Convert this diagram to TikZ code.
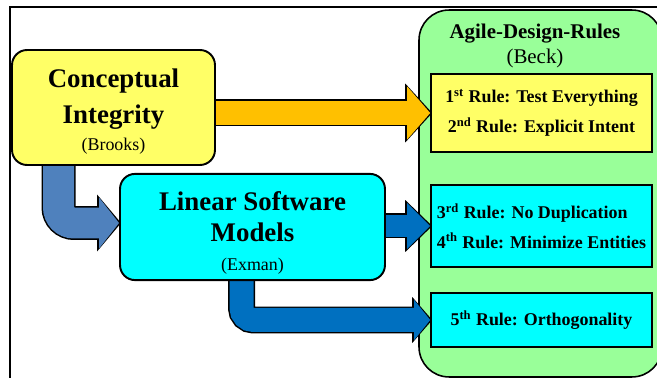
\documentclass[tikz,border=0pt]{standalone}
\usepackage{fontspec}
\setmainfont{Liberation Serif}
\usetikzlibrary{
    arrows.meta,
    positioning,
    calc
}
\definecolor{cyel}{RGB}{255,255,102}
\definecolor{ccyan}{RGB}{0,255,255}
\definecolor{cgreen}{RGB}{153,255,153}
\definecolor{corange}{RGB}{255,192,0}
\definecolor{cblueA}{RGB}{79,129,189}
\definecolor{cblueB}{RGB}{0,112,192}
\pgfdeclarelayer{bg}
\pgfdeclarelayer{mid}
\pgfsetlayers{bg,mid,main}
\tikzset{
  ibox/.style    = {draw, line width=1.1pt, rounded corners=0.3cm, align=center,
                    font=\bfseries\fontsize{15.3}{19.8}\selectfont},
  rbox/.style    = {draw, line width=0.9pt, minimum width=4.42cm, align=center,
                    font=\bfseries\fontsize{10.2}{17}\selectfont},
  % colour, shaft, tip length, tip width, outline tip length, outline tip width
  fatarr/.style n args={6}{draw=#1, line width=#2, line cap=butt,
                    -{Triangle[length=#3, width=#4, line width=0pt]},
                    preaction={draw=black, line width=#2+0.06cm, shorten >=-0.04cm,
                    -{Triangle[length=#5, width=#6, line width=0pt]}}}
}
\newcommand{\sml}{\mdseries\fontsize{10.2}{12}\selectfont}

\begin{document}
\begin{tikzpicture}[x=0.02cm, y=-0.02cm]
    \useasboundingbox (0,0) rectangle (657,378);
    \clip (0,0) rectangle (657,378);

    \node[ibox, fill=cyel, minimum width=4.06cm, minimum height=2.3cm] (ci) at (113.5,107.5)
        {\rule{0pt}{15.5pt}Conceptual\\[0.6pt]Integrity\\[-4.5pt]{\sml (Brooks)}};
    \node[ibox, fill=ccyan, minimum width=5.3cm, minimum height=2.04cm] (lsm) at (252.5,227)
        {\rule{0pt}{17.5pt}Linear Software\\[-2pt]Models\\[-3.5pt]{\sml (Exman)}};

    \node[rbox, fill=cyel, minimum height=1.56cm] (r12) at (541.5,113)
        {1\textsuperscript{st} Rule: Test Everything\\2\textsuperscript{nd} Rule: Explicit Intent};
    \node[rbox, fill=ccyan, minimum height=1.64cm, align=left] (r34) at (541.5,226)
        {3\textsuperscript{rd} Rule: No Duplication\\4\textsuperscript{th} Rule: Minimize Entities};
    \node[rbox, fill=ccyan, minimum height=1.08cm] (r5) at (541.5,320)
        {5\textsuperscript{th} Rule: Orthogonality};

    \begin{pgfonlayer}{bg}
      \node[draw, line width=0.9pt, fill=cgreen, rounded corners=0.6cm,
            minimum width=4.86cm, minimum height=7.34cm] (adr) at (540.5,193.5) {};
    \end{pgfonlayer}
    \node[font=\bfseries\fontsize{11.9}{14}\selectfont, align=center] (adrt) at (535,46)
        {Agile-Design-Rules\\{\mdseries\fontsize{11.9}{14}\selectfont (Beck)}};

    \begin{pgfonlayer}{mid}
      \draw[fatarr={corange}{0.48cm}{0.46cm}{1.06cm}{0.54cm}{1.18cm}]
          (ci.east |- r12.west) -- (r12.west);
      \draw[fatarr={cblueA}{0.62cm}{0.40cm}{1.02cm}{0.48cm}{1.14cm}, rounded corners=0.31cm]
          ([xshift=-1.1cm]ci.south) |- ([yshift=0.08cm]lsm.west);
      \draw[fatarr={cblueB}{0.44cm}{0.46cm}{0.92cm}{0.54cm}{1.04cm}]
          (lsm.east |- r34.west) -- (r34.west);
      \draw[fatarr={cblueB}{0.48cm}{0.32cm}{0.80cm}{0.40cm}{0.92cm}, rounded corners=0.24cm]
          ([xshift=-0.22cm]lsm.south) |- (r5.west);
    \end{pgfonlayer}

    % outer frame, cut off at right and bottom
    \draw[line width=1.2pt] (10,378) |- (657,7);
\end{tikzpicture}
\end{document}
